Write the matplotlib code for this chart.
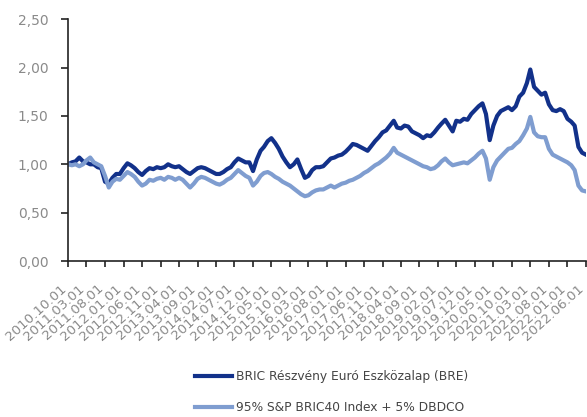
import matplotlib
matplotlib.use("Agg")
import matplotlib.pyplot as plt
import matplotlib.dates as mdates
import matplotlib.transforms as mtransforms
import pandas as pd

# havi ertekek 2010.10 - 2022.06 (a kepről leolvasva)
dates = pd.date_range("2010-10-01", "2022-06-01", freq="MS")

bre = [1.00, 1.02, 1.03, 1.07, 1.03, 1.02, 1.00, 1.00, 0.97, 0.96,
       0.82, 0.80, 0.86, 0.90, 0.90, 0.96, 1.01, 0.99, 0.96, 0.92,
       0.89, 0.93, 0.96, 0.95, 0.97, 0.96, 0.97, 1.00, 0.98, 0.97,
       0.98, 0.95, 0.92, 0.90, 0.93, 0.96, 0.97, 0.96, 0.94, 0.92,
       0.90, 0.90, 0.92, 0.95, 0.97, 1.02, 1.06, 1.04, 1.02, 1.02,
       0.93, 1.05, 1.14, 1.18, 1.24, 1.27, 1.22, 1.16, 1.08, 1.02,
       0.97, 1.00, 1.05, 0.95, 0.86, 0.88, 0.94, 0.97, 0.97, 0.98,
       1.02, 1.06, 1.07, 1.09, 1.10, 1.13, 1.17, 1.21, 1.20, 1.18,
       1.16, 1.14, 1.19, 1.24, 1.28, 1.33, 1.35, 1.40, 1.45, 1.38,
       1.37, 1.40, 1.39, 1.34, 1.32, 1.30, 1.27, 1.30, 1.29, 1.33,
       1.38, 1.42, 1.46, 1.40, 1.34, 1.45, 1.44, 1.47, 1.46, 1.52,
       1.56, 1.60, 1.63, 1.52, 1.25, 1.40, 1.50, 1.55, 1.57, 1.59,
       1.56, 1.60, 1.70, 1.74, 1.84, 1.98, 1.80, 1.76, 1.72, 1.74,
       1.62, 1.56, 1.55, 1.57, 1.55, 1.47, 1.44, 1.40, 1.18, 1.12,
       1.10]

index = [1.00, 0.99, 1.00, 0.98, 1.00, 1.04, 1.07, 1.02, 1.00, 0.98,
         0.88, 0.76, 0.82, 0.85, 0.84, 0.88, 0.92, 0.90, 0.87, 0.82,
         0.78, 0.80, 0.84, 0.83, 0.85, 0.86, 0.84, 0.87, 0.86, 0.84,
         0.86, 0.84, 0.80, 0.76, 0.80, 0.85, 0.87, 0.86, 0.84, 0.82,
         0.80, 0.79, 0.81, 0.84, 0.86, 0.90, 0.94, 0.91, 0.88, 0.86,
         0.78, 0.82, 0.88, 0.91, 0.92, 0.90, 0.87, 0.85, 0.82, 0.80,
         0.78, 0.75, 0.72, 0.69, 0.67, 0.68, 0.71, 0.73, 0.74, 0.74,
         0.76, 0.78, 0.76, 0.78, 0.80, 0.81, 0.83, 0.84, 0.86, 0.88,
         0.91, 0.93, 0.96, 0.99, 1.01, 1.04, 1.07, 1.11, 1.17, 1.12,
         1.10, 1.08, 1.06, 1.04, 1.02, 1.00, 0.98, 0.97, 0.95, 0.96,
         0.99, 1.03, 1.06, 1.02, 0.99, 1.00, 1.01, 1.02, 1.01, 1.04,
         1.07, 1.11, 1.14, 1.06, 0.84, 0.97, 1.04, 1.08, 1.12, 1.16,
         1.17, 1.21, 1.24, 1.30, 1.37, 1.49, 1.33, 1.29, 1.28, 1.28,
         1.16, 1.10, 1.08, 1.06, 1.04, 1.02, 0.99, 0.94, 0.78, 0.73,
         0.72]

labels = ["BRIC Részvény Euró Eszközalap (BRE)",
          "95% S&P BRIC40 Index + 5% DBDCO"]
colors = ["#12318a", "#7f9dd0"]
tick_dates = pd.date_range("2010-10-01", "2022-06-01", freq="5MS")

fig = plt.figure(figsize=(5.87, 4.17), dpi=100)
ax = fig.add_axes([0.116, 0.374, 0.882, 0.580])

ax.plot(dates, bre, color=colors[0], lw=3.0, label=labels[0])
ax.plot(dates, index, color=colors[1], lw=3.0, label=labels[1])

ax.set_ylim(0, 2.5)
ax.set_yticks([0, 0.5, 1.0, 1.5, 2.0, 2.5])
ax.set_yticklabels([f"{v:.2f}".replace(".", ",") for v in ax.get_yticks()])
ax.set_xlim(dates[0], dates[-1])
ax.set_xticks(tick_dates)
ax.xaxis.set_major_formatter(mdates.DateFormatter("%Y.%m.%d"))

for s in ["top", "right"]:
    ax.spines[s].set_visible(False)
for s in ["left", "bottom"]:
    ax.spines[s].set_color("#222222")
    ax.spines[s].set_linewidth(1.2)
ax.tick_params(axis="y", direction="out", length=5, width=1.2, colors="#222222",
               labelcolor="#8a8a8a", labelsize=10, pad=9)
ax.tick_params(axis="x", direction="out", length=4, width=1.2, colors="#222222",
               labelcolor="#8a8a8a", labelsize=9.6, pad=11)

# datum cimkek: ferden, kicsit balra tolva
shift = mtransforms.ScaledTranslation(-8 / 100, 0, fig.dpi_scale_trans)
for lbl in ax.get_xticklabels():
    lbl.set_rotation(42)
    lbl.set_ha("right")
    lbl.set_rotation_mode("anchor")
    lbl.set_transform(lbl.get_transform() + shift)

fig.legend(loc="center", bbox_to_anchor=(0.565, 0.060), ncol=1, frameon=False,
           fontsize=8.8, handlelength=3.0, handletextpad=0.35, labelspacing=1.45,
           labelcolor="#444444")

fig.savefig("out.png", dpi=100)
